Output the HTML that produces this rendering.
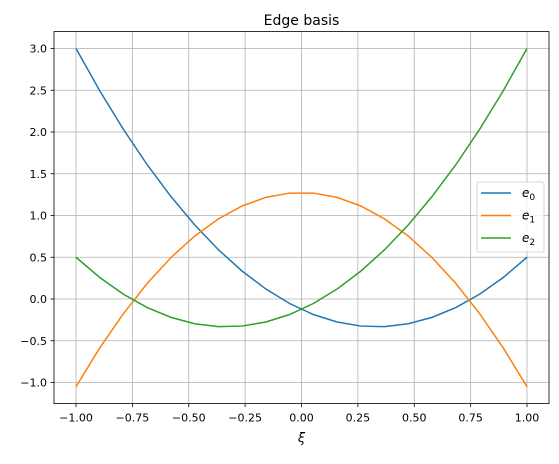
<!DOCTYPE html>
<html><head><meta charset="utf-8"><style>
body{margin:0;background:#fff;}
svg text{font-family:"DejaVu Sans","Liberation Sans",sans-serif;}
</style></head><body>
<svg id="c" width="559" height="459" xmlns="http://www.w3.org/2000/svg"></svg>
<script>
const xs=[-1,-0.8947,-0.7895,-0.6842,-0.5789,-0.4737,-0.3684,-0.2632,-0.1579,-0.0526,0.0526,0.1579,0.2632,0.3684,0.4737,0.5789,0.6842,0.7895,0.8947,1];
const e0=[3.0,2.4945,2.0306,1.608,1.2271,0.8879,0.5899,0.3339,0.1191,-0.054,-0.1856,-0.2757,-0.3241,-0.3311,-0.2963,-0.2201,-0.1026,0.0568,0.2577,0.5];
const e1=[-1.05,-0.5864,-0.1742,0.1867,0.4957,0.7533,0.9595,1.1139,1.2171,1.2686,1.2686,1.2171,1.1139,0.9595,0.7533,0.4957,0.1867,-0.1742,-0.5864,-1.05];
const e2=[0.5,0.2577,0.0568,-0.1026,-0.2201,-0.2963,-0.3311,-0.3241,-0.2757,-0.1856,-0.054,0.1191,0.3339,0.5899,0.8879,1.2271,1.608,2.0306,2.4945,3.0];
const xTicks=[-1,-0.75,-0.5,-0.25,0,0.25,0.5,0.75,1];
const yTicks=[-1,-0.5,0,0.5,1,1.5,2,2.5,3];
const seriesNames=["e0","e1","e2"];
const colors=["#1f77b4","#ff7f0e","#2ca02c"];
const L=54,R=549,T=31.6,B=403.6;
const X=v=>301.5+v*225.5;
const Y=v=>299-v*83.5;
const svg=document.getElementById('c');
const NS="http://www.w3.org/2000/svg";
function mk(t,a,p){const e=document.createElementNS(NS,t);for(const k in a)e.setAttribute(k,a[k]);(p||svg).appendChild(e);return e;}
xTicks.forEach(v=>{
 const g=mk('line',{x1:X(v),x2:X(v),y1:T,y2:B,stroke:'#b0b0b0','stroke-width':0.8});
 
 
 const tk=mk('line',{x1:X(v),x2:X(v),y1:B,y2:B+3.5,stroke:'#000','stroke-width':0.8});
 
 
 const t=mk('text',{x:X(v),y:B+18,'font-size':11,'text-anchor':'middle',fill:'#000'});
 t.textContent=(v<0?'\u2212':'')+Math.abs(v).toFixed(2);
 
 
});
yTicks.forEach(v=>{
 const g=mk('line',{x1:L,x2:R,y1:Y(v),y2:Y(v),stroke:'#b0b0b0','stroke-width':0.8});
 
 
 const tk=mk('line',{x1:L-3.5,x2:L,y1:Y(v),y2:Y(v),stroke:'#000','stroke-width':0.8});
 
 
 const t=mk('text',{x:L-7,y:Y(v)+4,'font-size':11,'text-anchor':'end',fill:'#000'});
 t.textContent=(v<0?'\u2212':'')+Math.abs(v).toFixed(1);
 
 
});
[e0,e1,e2].forEach((s,i)=>{
 const p=mk('polyline',{points:s.map((v,j)=>X(xs[j])+','+Y(v)).join(' '),fill:'none',stroke:colors[i],'stroke-width':1.5});
 
 
});
const fr=mk('rect',{x:L,y:T,width:R-L,height:B-T,fill:'none',stroke:'#000','stroke-width':0.8});


const ti=mk('text',{x:301.5,y:25,'font-size':14,'text-anchor':'middle'});
ti.textContent='Edge basis';


const xl=mk('text',{x:301.5,y:442,'font-size':13,'font-style':'italic','text-anchor':'middle'});
xl.textContent='ξ';


const lg=mk('rect',{x:477,y:182,width:67,height:70,rx:2,fill:'#fff','fill-opacity':0.8,stroke:'#ccc','stroke-width':0.8});


seriesNames.forEach((n,i)=>{
 const y=193+i*22.5;
 const l=mk('line',{x1:481,x2:511,y1:y,y2:y,stroke:colors[i],'stroke-width':1.5});
 
 
 const t=mk('text',{x:522,y:y+4,'font-size':12,'font-style':'italic'});
 t.textContent='e';
 const sub=mk('tspan',{'font-size':9,'font-style':'normal',dy:3},t);
 sub.textContent=String(i);
 
 
});
</script>
</body></html>
